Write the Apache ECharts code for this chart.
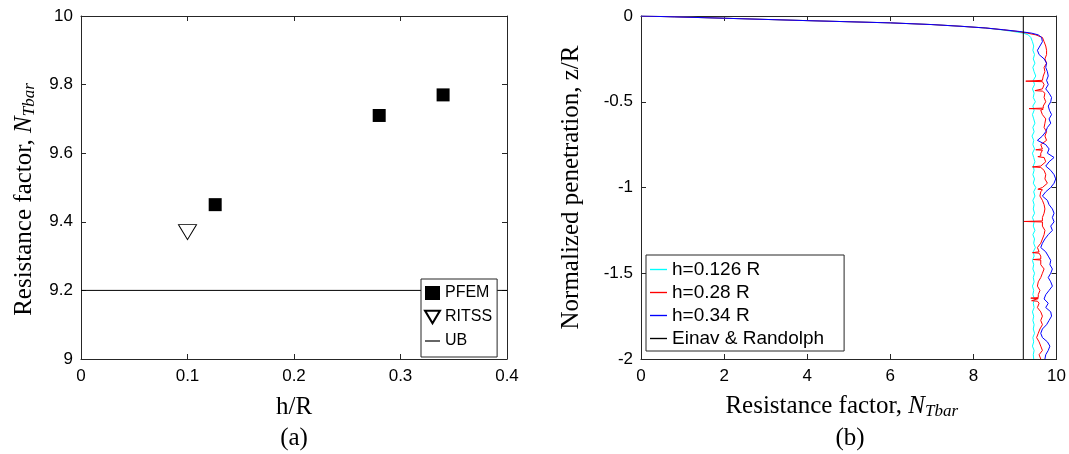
<!DOCTYPE html>
<html>
<head>
<meta charset="utf-8">
<script src="https://cdn.jsdelivr.net/npm/echarts@6/dist/echarts.min.js"></script>
<style>
html,body{margin:0;padding:0;background:#fff;}
#chart{width:1069px;height:454px;}
</style>
</head>
<body>
<div id="chart"></div>
<script>
// ---------- Panel (a) data ----------
const xTicksA = [0, 0.1, 0.2, 0.3, 0.4];
const yTicksA = [9, 9.2, 9.4, 9.6, 9.8, 10];
const pfemH = [0.126, 0.28, 0.34];
const pfemN = [9.45, 9.71, 9.77];
const ritssH = [0.1];
const ritssN = [9.37];
const ubN = 9.2;

// ---------- Panel (b) data ----------
const xTicksB = [0, 2, 4, 6, 8, 10];
const yTicksB = [-2, -1.5, -1, -0.5, 0];
const depth = [0, -0.005, -0.013, -0.027, -0.04, -0.05, -0.06, -0.07, -0.08, -0.09, -0.1, -0.11,
  -0.125, -0.15, -0.175, -0.2, -0.225, -0.25, -0.275, -0.3, -0.325, -0.35, -0.375, -0.4,
  -0.425, -0.45, -0.475, -0.5, -0.525, -0.55, -0.575, -0.6, -0.625, -0.65, -0.675, -0.7,
  -0.725, -0.75, -0.775, -0.8, -0.825, -0.85, -0.875, -0.9, -0.925, -0.95, -0.975, -1.0,
  -1.025, -1.05, -1.075, -1.1, -1.125, -1.15, -1.175, -1.2, -1.225, -1.25, -1.275, -1.3,
  -1.325, -1.35, -1.375, -1.4, -1.425, -1.45, -1.475, -1.5, -1.525, -1.55, -1.575, -1.6,
  -1.625, -1.65, -1.675, -1.7, -1.725, -1.75, -1.775, -1.8, -1.825, -1.85, -1.875, -1.9,
  -1.925, -1.95, -1.975, -2.0];
const ntCyan = [0, 0.8, 2.0, 4.0, 6.0, 7.0, 7.7, 8.3, 8.65, 8.95, 9.2, 9.32,
  9.38, 9.42, 9.45, 9.43, 9.47, 9.44, 9.48, 9.43, 9.46, 9.50, 9.44, 9.47,
  9.42, 9.46, 9.44, 9.49, 9.43, 9.46, 9.42, 9.45, 9.48, 9.43, 9.46, 9.41,
  9.45, 9.43, 9.47, 9.42, 9.45, 9.48, 9.44, 9.46, 9.43, 9.47, 9.44, 9.50,
  9.45, 9.48, 9.43, 9.46, 9.44, 9.47, 9.42, 9.46, 9.44, 9.48, 9.43, 9.47,
  9.45, 9.49, 9.44, 9.46, 9.42, 9.45, 9.43, 9.47, 9.44, 9.46, 9.42, 9.45,
  9.43, 9.47, 9.44, 9.46, 9.42, 9.45, 9.43, 9.46, 9.44, 9.47, 9.43, 9.45,
  9.42, 9.46, 9.44, 9.45];
const ntRed = [0, 0.8, 2.0, 4.0, 6.0, 7.0, 7.7, 8.3, 8.7, 9.05, 9.3, 9.5,
  9.66, 9.70, 9.74, 9.76, 9.76, 9.72, 9.76, 9.70, 9.72, 9.68, 9.66, 9.70,
  9.66, 9.72, 9.70, 9.74, 9.68, 9.62, 9.66, 9.74, 9.72, 9.70, 9.76, 9.72,
  9.76, 9.62, 9.66, 9.62, 9.70, 9.74, 9.62, 9.70, 9.74, 9.72, 9.78, 9.66,
  9.62, 9.60, 9.66, 9.70, 9.72, 9.70, 9.66, 9.62, 9.66, 9.72, 9.70, 9.66,
  9.62, 9.54, 9.58, 9.62, 9.66, 9.62, 9.70, 9.66, 9.62, 9.56, 9.54, 9.60,
  9.56, 9.54, 9.58, 9.54, 9.62, 9.66, 9.62, 9.66, 9.60, 9.56, 9.52, 9.58,
  9.62, 9.66, 9.58, 9.62];
const ntBlue = [0, 0.8, 2.0, 4.0, 6.0, 7.0, 7.7, 8.3, 8.72, 9.1, 9.4, 9.56,
  9.64, 9.66, 9.60, 9.54, 9.58, 9.70, 9.76, 9.74, 9.78, 9.80, 9.76, 9.80,
  9.74, 9.82, 9.88, 9.86, 9.80, 9.83, 9.88, 9.82, 9.86, 9.78, 9.74, 9.66,
  9.54, 9.74, 9.82, 9.78, 9.94, 9.82, 9.74, 9.86, 9.94, 9.98, 9.94, 9.86,
  9.74, 9.66, 9.78, 9.82, 9.90, 9.94, 9.90, 9.94, 9.86, 9.90, 9.80, 9.72,
  9.66, 9.62, 9.74, 9.80, 9.86, 9.84, 9.90, 9.86, 9.80, 9.86, 9.90, 9.82,
  9.74, 9.70, 9.80, 9.74, 9.86, 9.88, 9.82, 9.76, 9.66, 9.62, 9.66, 9.78,
  9.84, 9.80, 9.74, 9.72];
// narrow spikes in the h=0.28R trace
const redSpikeDepth = [-0.38, -0.435, -0.54, -0.6, -0.78, -0.82, -0.88, -1.01, -1.198, -1.38, -1.42, -1.645, -1.66, -1.8];
const redSpikeN = [9.26, 9.48, 9.34, 9.52, 9.50, 9.55, 9.42, 9.55, 9.22, 9.42, 9.44, 9.38, 9.40, 9.50];
const einavN = 9.2;

// ---------- build series data ----------
function pairs(xs, ys) { return xs.map((x, i) => [x, ys[i]]); }
function withSpikes(base, dep, sDep, sVal) {
  const out = [];
  for (let i = 0; i < dep.length; i++) {
    out.push([base[i], dep[i]]);
    if (i + 1 < dep.length) {
      for (let k = 0; k < sDep.length; k++) {
        if (sDep[k] < dep[i] && sDep[k] > dep[i + 1]) {
          out.push([base[i], sDep[k] + 0.003]);
          out.push([sVal[k], sDep[k]]);
          out.push([base[i], sDep[k] - 0.003]);
        }
      }
    }
  }
  return out;
}

const axisColor = '#262626';
const tickFont = 'Liberation Sans';
const titleFont = 'Liberation Serif';
const lineIcon = 'path://M0,0 L20,0 L20,1.6 L0,1.6 Z';

function baseAxis(extra) {
  return Object.assign({
    type: 'value',
    splitLine: { show: false },
    axisLine: { show: true, onZero: false, lineStyle: { color: axisColor, width: 1 } },
    axisTick: { show: true, inside: true, length: 5, lineStyle: { color: axisColor } },
    axisLabel: { fontFamily: tickFont, fontSize: 17, color: '#000' }
  }, extra);
}
const richName = {
  r: { fontFamily: titleFont, fontSize: 25, color: '#000' },
  n: { fontFamily: titleFont, fontSize: 25, fontStyle: 'italic', color: '#000' },
  s: { fontFamily: titleFont, fontSize: 17, fontStyle: 'italic', color: '#000', padding: [10, 0, 0, 0] }
};
const nTbarName = '{r|Resistance factor, }{n|N}{s|Tbar}';

const chart = echarts.init(document.getElementById('chart'), null, { renderer: 'canvas' });
const option = {
  animation: false,
  backgroundColor: '#fff',
  grid: [
    { left: 81, top: 16, width: 426, height: 343 },
    { left: 641, top: 16, width: 417, height: 343 }
  ],
  xAxis: [
    baseAxis({ gridIndex: 0, position: 'bottom', min: xTicksA[0], max: xTicksA[xTicksA.length - 1], interval: 0.1,
      axisLabel: { fontFamily: tickFont, fontSize: 17, color: '#000', margin: 9 },
      name: 'h/R', nameLocation: 'middle', nameGap: 36,
      nameTextStyle: { fontFamily: titleFont, fontSize: 25, color: '#000' } }),
    baseAxis({ gridIndex: 0, position: 'top', min: xTicksA[0], max: xTicksA[xTicksA.length - 1], interval: 0.1,
      axisLabel: { show: false } }),
    baseAxis({ gridIndex: 1, position: 'bottom', min: xTicksB[0], max: xTicksB[xTicksB.length - 1], interval: 2,
      axisLabel: { fontFamily: tickFont, fontSize: 17, color: '#000', margin: 9 },
      name: nTbarName, nameLocation: 'middle', nameGap: 34,
      nameTextStyle: { rich: richName, padding: [0, 14, 0, 0] } }),
    baseAxis({ gridIndex: 1, position: 'top', min: xTicksB[0], max: xTicksB[xTicksB.length - 1], interval: 2,
      axisLabel: { show: false } })
  ],
  yAxis: [
    baseAxis({ gridIndex: 0, position: 'left', min: yTicksA[0], max: yTicksA[yTicksA.length - 1], interval: 0.2,
      axisLabel: { fontFamily: tickFont, fontSize: 17, color: '#000', margin: 8 },
      name: nTbarName, nameLocation: 'middle', nameGap: 43, nameRotate: 90,
      nameTextStyle: { rich: richName, padding: [0, 24, 0, 0] } }),
    baseAxis({ gridIndex: 0, position: 'right', min: yTicksA[0], max: yTicksA[yTicksA.length - 1], interval: 0.2,
      axisLabel: { show: false } }),
    baseAxis({ gridIndex: 1, position: 'left', min: yTicksB[0], max: yTicksB[yTicksB.length - 1], interval: 0.5,
      axisLabel: { fontFamily: tickFont, fontSize: 17, color: '#000', margin: 8 },
      name: 'Normalized penetration, z/R', nameLocation: 'middle', nameGap: 57, nameRotate: 90,
      nameTextStyle: { fontFamily: titleFont, fontSize: 25, color: '#000' } }),
    baseAxis({ gridIndex: 1, position: 'right', min: yTicksB[0], max: yTicksB[yTicksB.length - 1], interval: 0.5,
      axisLabel: { show: false } })
  ],
  legend: [
    {
      data: [{ name: 'PFEM' }, { name: 'RITSS' }, { name: 'UB', icon: lineIcon }],
      orient: 'vertical', left: 421, top: 279,
      backgroundColor: '#fff', borderColor: axisColor, borderWidth: 1, borderRadius: 0,
      padding: [6, 5, 8, 3], itemGap: 8, itemWidth: 15, itemHeight: 14, symbolKeepAspect: true,
      textStyle: { fontFamily: tickFont, fontSize: 16, color: '#000' },
      selectedMode: false
    },
    {
      data: [{ name: 'h=0.126 R', icon: lineIcon }, { name: 'h=0.28 R', icon: lineIcon },
             { name: 'h=0.34 R', icon: lineIcon }, { name: 'Einav & Randolph', icon: lineIcon }],
      orient: 'vertical', left: 646, top: 255,
      backgroundColor: '#fff', borderColor: axisColor, borderWidth: 1, borderRadius: 0,
      padding: [5, 20, 3, 4], itemGap: 4, itemWidth: 17, itemHeight: 14, symbolKeepAspect: true,
      textStyle: { fontFamily: tickFont, fontSize: 19, color: '#000' },
      selectedMode: false
    }
  ],
  graphic: [
    { type: 'text', style: { text: '(a)', x: 294, y: 438, font: '25px "Liberation Serif"', fill: '#000', textAlign: 'center', textVerticalAlign: 'middle', align: 'center', verticalAlign: 'middle' } },
    { type: 'text', style: { text: '(b)', x: 850, y: 438, font: '25px "Liberation Serif"', fill: '#000', textAlign: 'center', textVerticalAlign: 'middle', align: 'center', verticalAlign: 'middle' } }
  ],
  series: [
    { name: 'PFEM', type: 'scatter', xAxisIndex: 0, yAxisIndex: 0, symbol: 'rect', symbolSize: 13,
      itemStyle: { color: '#000', opacity: 1 }, data: pairs(pfemH, pfemN) },
    { name: 'RITSS', type: 'scatter', xAxisIndex: 0, yAxisIndex: 0, symbol: 'path://M0,0 L20,0 L10,17 Z', symbolSize: [18, 15],
      itemStyle: { color: '#fff', borderColor: '#000', borderWidth: 1, opacity: 1 }, data: pairs(ritssH, ritssN) },
    { name: 'UB', type: 'line', xAxisIndex: 0, yAxisIndex: 0, symbol: 'none', showSymbol: false,
      lineStyle: { color: '#000', width: 1 }, itemStyle: { color: '#000' },
      data: [[xTicksA[0], ubN], [xTicksA[xTicksA.length - 1], ubN]] },
    { name: 'h=0.126 R', type: 'line', xAxisIndex: 2, yAxisIndex: 2, symbol: 'none', showSymbol: false,
      lineStyle: { color: '#00ffff', width: 1 }, itemStyle: { color: '#00ffff' }, data: pairs(ntCyan, depth) },
    { name: 'h=0.28 R', type: 'line', xAxisIndex: 2, yAxisIndex: 2, symbol: 'none', showSymbol: false,
      lineStyle: { color: '#ff0000', width: 1 }, itemStyle: { color: '#ff0000' },
      data: withSpikes(ntRed, depth, redSpikeDepth, redSpikeN) },
    { name: 'h=0.34 R', type: 'line', xAxisIndex: 2, yAxisIndex: 2, symbol: 'none', showSymbol: false,
      lineStyle: { color: '#0000ff', width: 1 }, itemStyle: { color: '#0000ff' }, data: pairs(ntBlue, depth) },
    { name: 'Einav & Randolph', type: 'line', xAxisIndex: 2, yAxisIndex: 2, symbol: 'none', showSymbol: false,
      lineStyle: { color: '#000', width: 1 }, itemStyle: { color: '#000' },
      data: [[einavN, yTicksB[yTicksB.length - 1]], [einavN, yTicksB[0]]] }
  ]
};
chart.setOption(option);
</script>
</body>
</html>
